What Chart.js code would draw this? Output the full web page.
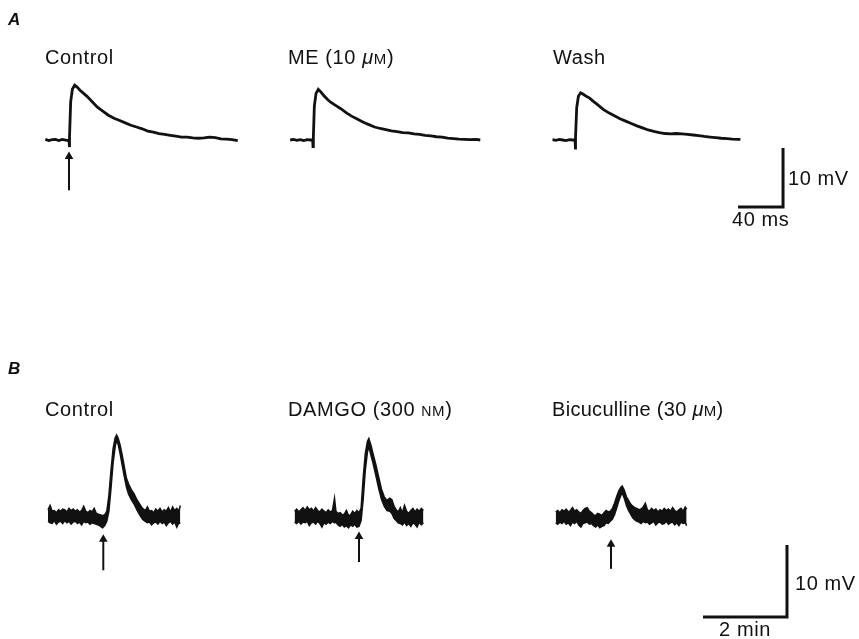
<!DOCTYPE html>
<html>
<head>
<meta charset="utf-8">
<script src="https://cdn.jsdelivr.net/npm/chart.js@4"></script>
<style>
  body { margin: 0; background: #fff; width: 859px; height: 639px; position: relative; overflow: hidden; }
  canvas { position: absolute; left: 0; }
  #chartA { top: 0; }
  #chartB { top: 380px; }
  .lbl { position: absolute; font-family: "Liberation Sans", Arial, sans-serif; font-size: 20px; line-height: 20px; letter-spacing: 0.6px; color: #111; white-space: nowrap; }
  .panel { position: absolute; font-family: "Liberation Sans", Arial, sans-serif; font-size: 17px; line-height: 17px; font-weight: bold; font-style: italic; color: #111; }
  .sm { font-size: 15px; }
  .sc { font-variant: small-caps; }
</style>
</head>
<body>
<canvas id="chartA" width="859" height="260"></canvas>
<canvas id="chartB" width="859" height="259"></canvas>

<div class="panel" style="left:8px; top:11px;">A</div>
<div class="lbl" style="left:45px; top:47px;">Control</div>
<div class="lbl" style="left:288px; top:47px;">ME (10 <i>μ</i><span class="sm">M</span>)</div>
<div class="lbl" style="left:553px; top:47px;">Wash</div>
<div class="lbl" style="left:788px; top:168px;">10 mV</div>
<div class="lbl" style="left:732px; top:209px;">40 ms</div>

<div class="panel" style="left:8px; top:360px;">B</div>
<div class="lbl" style="left:45px; top:399px;">Control</div>
<div class="lbl" style="left:288px; top:399px;">DAMGO (300 <span class="sc">n</span><span class="sm">M</span>)</div>
<div class="lbl" style="left:552px; top:399px; letter-spacing:0.3px;">Bicuculline (30 <i>μ</i><span class="sm">M</span>)</div>
<div class="lbl" style="left:795px; top:573px;">10 mV</div>
<div class="lbl" style="left:719px; top:619px;">2 min</div>

<script>
// ---- Panel A: evoked potentials (ms, mV), time relative to stimulus ----
const ctrlA_ms = [-21,-18,-15,-12,-9,-6,-3,-1,
  0,0.3,0.6,1.5,3,5,7,10,13,16,
  20,25,30,35,40,45,50,55,60,65,70,75,80,85,90,95,100,105,110,115,120,125,130,135,140,145,150];
const ctrlA_mV = [0.1,-0.1,0.05,0.1,-0.1,0.1,0,-0.1,
  0,-1.2,0.5,6.5,8.6,9.3,9.0,8.4,7.9,7.4,
  6.6,5.6,4.9,4.2,3.7,3.3,2.9,2.5,2.2,1.9,1.5,1.35,1.1,0.95,0.8,0.65,0.5,0.5,0.35,0.3,0.35,0.5,0.4,0.2,0.15,0.05,-0.1];

const meA_ms = [-20,-17,-14,-11,-8,-5,-2,
  0,0.3,0.6,1.5,3,5,7,10,13,16,
  20,25,30,35,40,45,50,55,60,65,70,75,80,85,90,95,100,105,110,115,120,125,130,135,140,145,149];
const meA_mV = [0,0.1,-0.05,0.05,-0.1,0.05,0,
  0,-1.1,0.5,5.8,7.9,8.6,8.2,7.5,6.9,6.4,
  5.9,5.3,4.6,4.0,3.5,3.0,2.6,2.2,1.95,1.75,1.55,1.4,1.25,1.2,1.05,0.95,0.8,0.7,0.55,0.5,0.3,0.25,0.15,0.1,0.05,0.1,0];

const washA_ms = [-20,-17,-14,-11,-8,-5,-2,
  0,0.3,0.6,1.5,3,5,7,10,13,16,
  20,25,30,35,40,45,50,55,60,65,70,75,80,85,90,95,100,105,110,115,120,125,130,135,140,145,147];
const washA_mV = [0.05,-0.05,0.1,0,-0.1,0.05,0,
  0,-1.6,0.5,5.5,7.4,8.0,7.8,7.4,7.1,6.6,
  6.0,5.2,4.6,4.1,3.6,3.2,2.8,2.4,2.05,1.7,1.45,1.25,1.1,1.05,1.1,1.05,0.95,0.85,0.75,0.6,0.5,0.4,0.3,0.25,0.15,0.1,0.1];

// ---- Panel B: slow potentials (s, mV), noisy trace kept as upper / lower envelope ----
const ctrlB_s = [-79,-76,-73,-70,-67,-64,-61,-58,-55,-52,
  -49,-46,-43,-40,-37,-34,-31,-28,-25,-22,
  -19,-16,-13,-10,-7,-4,-1,2,5,8,
  11,14,17,19,21,24,27,30,33,36,
  40,44,48,52,56,60,63,66,69,72,
  75,78,81,84,87,90,93,96,99,102,
  105,108,110];
const ctrlB_hi = [1.0,1.6,0.8,0.9,0.6,1.0,0.8,1.1,1.0,0.7,
  1.2,0.9,1.1,0.8,1.0,0.7,0.9,1.5,0.8,0.6,
  0.9,0.7,1.2,0.5,0.4,0.3,0.2,0.3,0.8,3.0,
  6.5,9.5,11.0,11.4,11.0,10.0,8.6,7.0,5.4,4.6,
  3.8,3.2,2.4,1.8,1.2,0.9,1.4,0.8,0.9,0.6,
  1.1,0.8,1.2,0.7,1.0,0.8,1.3,0.7,1.4,0.9,
  1.2,0.8,1.6];
const ctrlB_lo = [-0.6,-0.8,-0.9,-0.5,-1.0,-0.7,-0.6,-0.9,-0.5,-0.8,
  -0.6,-1.0,-0.7,-0.6,-0.9,-0.7,-1.1,-0.6,-0.8,-0.7,
  -1.0,-0.8,-0.9,-1.0,-1.1,-1.3,-1.5,-1.2,-0.6,0.8,
  4.0,7.5,9.8,10.6,10.2,8.8,7.2,5.6,4.2,3.2,
  2.4,1.8,1.0,0.3,-0.3,-0.6,-0.8,-0.7,-1.1,-0.8,
  -0.7,-1.0,-0.6,-0.9,-0.7,-1.2,-0.8,-0.6,-1.0,-0.7,
  -1.4,-0.8,-0.9];

const damgoB_s = [-92,-89,-86,-83,-80,-77,-74,-71,-68,-65,
  -62,-59,-56,-53,-50,-47,-44,-41,-38,-35,
  -33,-30,-27,-24,-21,-18,-15,-12,-9,-6,
  -3,0,3,6,9,12,14,17,20,24,
  28,32,36,40,44,47,50,53,56,59,
  62,65,68,71,74,77,80,83,86,89,
  92];
const damgoB_hi = [0.8,1.1,0.7,1.0,1.3,0.9,1.4,1.0,1.2,0.8,
  1.3,0.9,0.7,1.1,0.8,0.6,1.0,0.7,0.9,2.6,
  0.8,0.5,0.6,0.3,0.4,0.9,0.2,0.3,0.8,0.5,
  0.9,0.6,1.2,5.5,8.8,10.5,10.9,10.0,8.8,7.3,
  5.6,3.9,2.8,2.3,2.6,2.4,1.5,1.0,0.7,1.3,
  0.6,1.6,0.8,0.5,0.9,1.2,0.7,1.1,0.8,1.2,
  0.9];
const damgoB_lo = [-0.7,-0.9,-0.6,-1.0,-0.7,-0.8,-0.6,-1.2,-0.8,-0.7,
  -1.0,-0.6,-0.9,-1.4,-0.8,-1.0,-0.7,-0.9,-0.6,-0.8,
  -0.7,-1.1,-1.3,-1.0,-1.4,-1.2,-1.5,-1.1,-1.3,-1.0,
  -1.4,-1.3,-0.5,2.5,6.5,9.0,9.8,8.6,7.5,5.8,
  4.0,2.5,1.5,0.9,0.8,0.5,-0.2,-0.5,-0.8,-0.9,
  -1.1,-0.7,-1.2,-0.9,-1.3,-0.8,-1.0,-1.4,-0.7,-1.1,
  -0.8];

const bicB_s = [-79,-76,-73,-70,-67,-64,-61,-58,-55,-52,
  -49,-46,-43,-40,-37,-34,-31,-28,-25,-22,
  -19,-16,-13,-10,-7,-4,-1,2,5,8,
  11,14,16,19,22,25,28,31,34,37,
  40,43,46,49,52,55,58,61,64,67,
  70,73,76,79,82,85,88,91,94,97,
  100,103,106,108];
const bicB_hi = [0.7,0.9,0.6,1.0,0.8,1.1,0.7,0.9,1.3,0.8,
  1.0,0.7,0.5,0.9,1.2,1.3,0.8,0.6,0.3,0.2,
  0.5,0.4,0.2,0.6,0.9,0.7,0.8,1.2,1.9,2.8,
  3.6,4.1,4.3,3.7,2.8,2.3,1.8,1.5,1.3,1.2,
  1.0,1.1,1.4,1.9,1.0,0.8,1.2,0.9,1.1,0.7,
  1.0,0.8,1.2,0.9,1.1,0.8,1.3,0.9,0.7,1.0,
  1.2,0.8,1.4,1.1];
const bicB_lo = [-0.8,-1.0,-0.7,-0.9,-0.6,-1.0,-0.8,-1.2,-0.7,-0.9,
  -0.6,-1.1,-1.4,-0.9,-0.8,-0.7,-1.0,-0.9,-1.2,-1.4,
  -1.1,-1.5,-1.3,-1.2,-0.8,-0.9,-0.6,-0.3,0.3,1.2,
  2.2,3.0,3.3,2.6,1.6,0.9,0.4,-0.1,-0.4,-0.6,
  -0.7,-0.9,-0.6,-0.8,-0.7,-1.0,-0.8,-0.6,-1.1,-0.8,
  -0.7,-1.0,-0.9,-0.6,-1.0,-0.8,-0.7,-1.1,-0.8,-1.2,
  -0.7,-0.9,-0.8,-1.2];

// scale bars
const barA = { ms: 40, mV: 10 };
const barB = { s: 120, mV: 10 };

// ---- layout (where each trace sits on the shared axes) ----
const INK = '#111';
const offsetsA = [0, 216.6, 449.8];          // ms between stimulus marks
const offsetsB = [0, 365.3, 725.3];          // s between stimulus marks
const cornerA = { x: 634.7, y: -11.36 };     // scale bar corner
const cornerB = { x: 976.7, y: -13.9 };
const arrowsA = [[-8.5, -2.8]];              // [bottom, tip] mV
const arrowsB = [[-7.4, -3.1], [-6.25, -2.7], [-7.2, -3.8]];

function pts(t, v, off) {
  return t.map((ti, i) => ({ x: ti + off, y: v[i] }));
}

function lineSet(data, width) {
  return { data: data, borderColor: INK, borderWidth: width, showLine: true,
           pointRadius: 0, fill: false, tension: 0 };
}

function arrowSet(x, ends) {
  return { data: [{ x: x, y: ends[0] }, { x: x, y: ends[1] }], borderColor: INK, borderWidth: 2,
           showLine: true, pointRadius: [0, 5], pointStyle: 'triangle',
           pointBackgroundColor: INK, pointBorderColor: INK, pointBorderWidth: 0, fill: false };
}

function barSet(corner, dx, dy) {
  return lineSet([{ x: corner.x - dx, y: corner.y }, corner, { x: corner.x, y: corner.y + dy }], 3);
}

function makeChart(id, datasets, xr, yr) {
  return new Chart(document.getElementById(id), {
    type: 'scatter',
    data: { datasets: datasets },
    options: {
      responsive: false,
      animation: false,
      layout: { padding: 0, autoPadding: false },
      plugins: { legend: { display: false }, tooltip: { enabled: false } },
      scales: {
        x: { type: 'linear', display: false, min: xr[0], max: xr[1] },
        y: { type: 'linear', display: false, min: yr[0], max: yr[1] }
      }
    }
  });
}

// Panel A: 1.125 px per ms, 5.9 px per mV, baseline at y=140
const dsA = [
  lineSet(pts(ctrlA_ms, ctrlA_mV, offsetsA[0]), 2.8),
  lineSet(pts(meA_ms, meA_mV, offsetsA[1]), 2.8),
  lineSet(pts(washA_ms, washA_mV, offsetsA[2]), 2.8),
  barSet(cornerA, barA.ms, barA.mV)
];
arrowsA.forEach((a, i) => dsA.push(arrowSet(offsetsA[i], a)));
makeChart('chartA', dsA, [-69 / 1.125, (859 - 69) / 1.125], [(140 - 260) / 5.9, 140 / 5.9]);

// Panel B: 0.7 px per s, 7.2 px per mV, baseline at y=137 in canvas
const dsB = [];
[[ctrlB_s, ctrlB_hi, ctrlB_lo], [damgoB_s, damgoB_hi, damgoB_lo], [bicB_s, bicB_hi, bicB_lo]].forEach((tr, i) => {
  dsB.push(lineSet(pts(tr[0], tr[1], offsetsB[i]), 1.5));
  const lo = lineSet(pts(tr[0], tr[2], offsetsB[i]), 1.5);
  lo.fill = '-1';
  lo.backgroundColor = INK;
  dsB.push(lo);
});
dsB.push(barSet(cornerB, barB.s, barB.mV));
arrowsB.forEach((a, i) => dsB.push(arrowSet(offsetsB[i], a)));
makeChart('chartB', dsB, [-103.3 / 0.7, (859 - 103.3) / 0.7], [(137 - 259) / 7.2, 137 / 7.2]);
</script>
</body>
</html>
